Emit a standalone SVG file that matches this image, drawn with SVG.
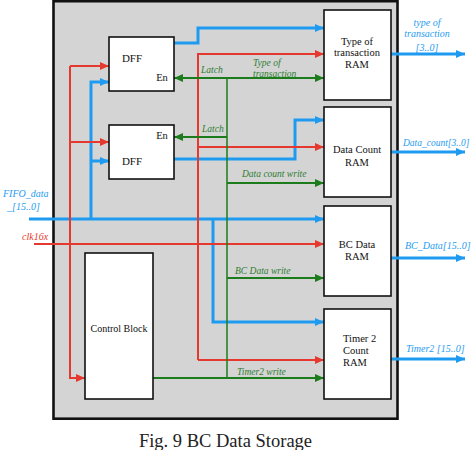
<svg xmlns="http://www.w3.org/2000/svg" width="474" height="450" viewBox="0 0 474 450">
<style>
.box{fill:#fff;stroke:#111;stroke-width:1.6}
.t{font-family:"Liberation Serif",serif;font-size:10.5px;fill:#111;text-anchor:middle}
.b{fill:none;stroke:#1E9BF0;stroke-width:3}
.r{fill:none;stroke:#E5392F;stroke-width:2}
.g{fill:none;stroke:#1C7C1C;stroke-width:2}
.gl{font-family:"Liberation Serif",serif;font-style:italic;font-size:9.5px;fill:#2E7D32}
.bl{font-family:"Liberation Serif",serif;font-style:italic;font-size:10px;fill:#1E9BF0}
.rl{font-family:"Liberation Serif",serif;font-style:italic;font-size:10px;fill:#E5392F}
</style>
<defs>
<marker id="ab" markerUnits="userSpaceOnUse" markerWidth="9" markerHeight="8" refX="9" refY="4" orient="auto"><path d="M0,0 L9,4 L0,8 z" fill="#1E9BF0"/></marker>
<marker id="ar" markerUnits="userSpaceOnUse" markerWidth="9" markerHeight="8" refX="9" refY="4" orient="auto"><path d="M0,0 L9,4 L0,8 z" fill="#E5392F"/></marker>
<marker id="ag" markerUnits="userSpaceOnUse" markerWidth="9" markerHeight="8" refX="9" refY="4" orient="auto"><path d="M0,0 L9,4 L0,8 z" fill="#1C7C1C"/></marker>
</defs>
<rect id="frame" x="53.5" y="1.2" width="344" height="417.5" fill="#D4D4D4" stroke="#111" stroke-width="2.6"/>

<g id="connectors">
<path class="b" d="M29,219 H324" marker-end="url(#ab)"/>
<path class="b" d="M91,219 V82 H109" marker-end="url(#ab)"/>
<path class="b" d="M91,161 H109" marker-end="url(#ab)"/>
<path class="b" d="M174,43 H198 V28 H324" marker-end="url(#ab)"/>
<path class="b" d="M174,159 H295 V120 H324" marker-end="url(#ab)"/>
<path class="b" d="M213,219 V322 H324" marker-end="url(#ab)"/>
<path class="b" d="M391,54 H465" marker-end="url(#ab)"/>
<path class="b" d="M391,152 H465" marker-end="url(#ab)"/>
<path class="b" d="M391,258 H465" marker-end="url(#ab)"/>
<path class="b" d="M391,359 H465" marker-end="url(#ab)"/>

<path class="r" d="M34,244 H324" marker-end="url(#ar)"/>
<path class="r" d="M70,66 H109" marker-end="url(#ar)"/>
<path class="r" d="M70,66 V378 H85" marker-end="url(#ar)"/>
<path class="r" d="M70,142 H109" marker-end="url(#ar)"/>
<path class="r" d="M198,360 V54 H324" marker-end="url(#ar)"/>
<path class="r" d="M198,147 H324" marker-end="url(#ar)"/>
<path class="r" d="M198,360 H324" marker-end="url(#ar)"/>

<path class="g" d="M153,378 H324" marker-end="url(#ag)"/>
<path class="g" d="M227,378 V78" style="stroke-width:1.5"/>
<path class="g" d="M227,78 H174" marker-end="url(#ag)"/>
<path class="g" d="M227,78 H324" marker-end="url(#ag)"/>
<path class="g" d="M227,137 H174" marker-end="url(#ag)"/>
<path class="g" d="M227,183 H324" marker-end="url(#ag)"/>
<path class="g" d="M227,278 H324" marker-end="url(#ag)"/>

<text class="gl" x="201" y="73">Latch</text>
<text class="gl" x="202" y="132">Latch</text>
<text class="gl" x="253" y="66">Type of</text>
<text class="gl" x="253" y="77">transaction</text>
<text class="gl" x="242" y="177">Data count write</text>
<text class="gl" x="235" y="274">BC Data write</text>
<text class="gl" x="237" y="375">Timer2 write</text>

<text class="bl" x="3" y="197">FIFO_data</text>
<text class="bl" x="7" y="210">_[15..0]</text>
<text class="rl" x="22" y="240">clk16x</text>
<text class="bl" x="427" y="26" text-anchor="middle">type of</text>
<text class="bl" x="427" y="37" text-anchor="middle">transaction</text>
<text class="bl" x="427" y="51" text-anchor="middle">[3..0]</text>
<text class="bl" x="403" y="146" style="font-size:9.5px">Data_count[3..0]</text>
<text class="bl" x="405" y="249">BC_Data[15..0]</text>
<text class="bl" x="406" y="352">Timer2 [15..0]</text>
</g>

<g id="dff1">
<rect class="box" x="109" y="37" width="65" height="54"/>
<text class="t" x="132" y="62" style="font-size:11px">DFF</text>
<text class="t" x="162" y="81">En</text>
</g>
<g id="dff2">
<rect class="box" x="109" y="125" width="65" height="54"/>
<text class="t" x="162" y="139">En</text>
<text class="t" x="132" y="165" style="font-size:11px">DFF</text>
</g>
<g id="ram-type">
<rect class="box" x="324" y="10" width="67" height="90"/>
<text class="t" x="357" y="45">Type of</text>
<text class="t" x="357" y="56">transaction</text>
<text class="t" x="357" y="68">RAM</text>
</g>
<g id="ram-count">
<rect class="box" x="324" y="107" width="67" height="90"/>
<text class="t" x="357" y="153">Data Count</text>
<text class="t" x="357" y="166">RAM</text>
</g>
<g id="ram-bc">
<rect class="box" x="324" y="206" width="67" height="90"/>
<text class="t" x="357" y="248">BC Data</text>
<text class="t" x="357" y="260">RAM</text>
</g>
<g id="ram-timer">
<rect class="box" x="324" y="309" width="67" height="90"/>
<text class="t" x="343" y="342" style="text-anchor:start">Timer 2</text>
<text class="t" x="343" y="354" style="text-anchor:start">Count</text>
<text class="t" x="343" y="366" style="text-anchor:start">RAM</text>
</g>
<g id="control">
<rect class="box" x="85" y="253" width="68" height="146"/>
<text class="t" x="119" y="332" style="font-size:10px">Control Block</text>
</g>
<text x="225.5" y="447" style="font-family:'Liberation Serif',serif;font-size:18.5px;fill:#222;text-anchor:middle">Fig. 9 BC Data Storage</text>
</svg>
